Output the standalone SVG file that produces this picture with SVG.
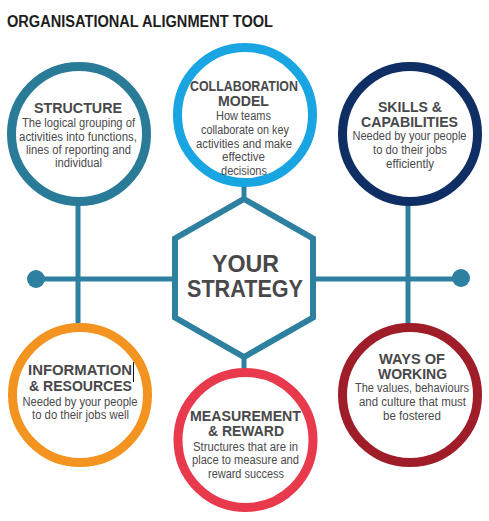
<svg xmlns="http://www.w3.org/2000/svg" width="489" height="521" viewBox="0 0 489 521">
<style>
.title{font-family:"Liberation Sans",Arial,sans-serif;font-weight:bold;font-size:16px;fill:#1e1e1e}
.h{font-family:"Liberation Sans",Arial,sans-serif;font-weight:bold;font-size:14.5px;fill:#48484a;text-anchor:middle}
.b{font-family:"Liberation Sans",Arial,sans-serif;font-size:12px;fill:#4a4a4c;text-anchor:middle}
.big{font-family:"Liberation Sans",Arial,sans-serif;font-weight:bold;font-size:24px;fill:#48484a;text-anchor:middle}
.ring{fill:#ffffff;stroke-width:9}
.conn{stroke:#2e80a0;stroke-width:5;fill:none}
</style>
<rect width="489" height="521" fill="#ffffff"/>
<text class="title" x="7" y="27" textLength="266" lengthAdjust="spacingAndGlyphs">ORGANISATIONAL ALIGNMENT TOOL</text>

<g id="connectors">
  <line class="conn" x1="78" y1="200" x2="78" y2="330"/>
  <line class="conn" x1="408" y1="200" x2="408" y2="330"/>
  <line class="conn" x1="36" y1="279" x2="176" y2="279"/>
  <line class="conn" x1="312" y1="279" x2="461" y2="279"/>
  <line class="conn" x1="244" y1="185" x2="244" y2="200"/>
  <line class="conn" x1="244" y1="352" x2="244" y2="370"/>
  <circle cx="36" cy="279" r="9" fill="#2e80a0"/>
  <circle cx="461" cy="278" r="9" fill="#2e80a0"/>
</g>

<g id="strategy">
  <polygon points="244,199 313,238.5 313,317.5 244,357 175,317.5 175,238.5" fill="#ffffff" stroke="#2e80a0" stroke-width="6"/>
  <text class="big" x="245.5" y="272" textLength="67" lengthAdjust="spacingAndGlyphs">YOUR</text>
  <text class="big" x="245" y="297" textLength="116" lengthAdjust="spacingAndGlyphs">STRATEGY</text>
</g>

<g id="structure">
  <circle class="ring" cx="79" cy="134" r="67.5" stroke="#2a7b98"/>
  <text class="h" x="78" y="113" textLength="88" lengthAdjust="spacingAndGlyphs">STRUCTURE</text>
  <text class="b" x="78.5" y="127" textLength="113" lengthAdjust="spacingAndGlyphs">The logical grouping of</text>
  <text class="b" x="78" y="141" textLength="118" lengthAdjust="spacingAndGlyphs">activities into functions,</text>
  <text class="b" x="78.5" y="154" textLength="105" lengthAdjust="spacingAndGlyphs">lines of reporting and</text>
  <text class="b" x="78.5" y="167" textLength="47" lengthAdjust="spacingAndGlyphs">individual</text>
</g>

<g id="collaboration">
  <circle class="ring" cx="245" cy="115" r="67.5" stroke="#19a4e2"/>
  <text class="h" x="244" y="91" font-size="14" textLength="108" lengthAdjust="spacingAndGlyphs">COLLABORATION</text>
  <text class="h" x="243.5" y="105.5" font-size="14" textLength="51" lengthAdjust="spacingAndGlyphs">MODEL</text>
  <text class="b" x="243.5" y="120" textLength="55" lengthAdjust="spacingAndGlyphs">How teams</text>
  <text class="b" x="245" y="134" textLength="88" lengthAdjust="spacingAndGlyphs">collaborate on key</text>
  <text class="b" x="244" y="148" textLength="96" lengthAdjust="spacingAndGlyphs">activities and make</text>
  <text class="b" x="243.5" y="161" textLength="43" lengthAdjust="spacingAndGlyphs">effective</text>
  <text class="b" x="244" y="175" textLength="46" lengthAdjust="spacingAndGlyphs">decisions</text>
</g>

<g id="skills">
  <circle class="ring" cx="410" cy="134" r="67.5" stroke="#0f2e63"/>
  <text class="h" x="410" y="112" textLength="64" lengthAdjust="spacingAndGlyphs">SKILLS &amp;</text>
  <text class="h" x="409.5" y="127" textLength="97" lengthAdjust="spacingAndGlyphs">CAPABILITIES</text>
  <text class="b" x="409.5" y="140" textLength="114" lengthAdjust="spacingAndGlyphs">Needed by your people</text>
  <text class="b" x="410" y="154" textLength="74" lengthAdjust="spacingAndGlyphs">to do their jobs</text>
  <text class="b" x="410" y="168" textLength="48" lengthAdjust="spacingAndGlyphs">efficiently</text>
</g>

<g id="information">
  <circle class="ring" cx="80" cy="395" r="67.5" stroke="#f39420"/>
  <text class="h" x="80" y="375" textLength="104" lengthAdjust="spacingAndGlyphs">INFORMATION</text>
  <text class="h" x="80.5" y="391" textLength="103" lengthAdjust="spacingAndGlyphs">&amp; RESOURCES</text>
  <text class="b" x="80" y="406" textLength="115" lengthAdjust="spacingAndGlyphs">Needed by your people</text>
  <text class="b" x="80.5" y="419" textLength="97" lengthAdjust="spacingAndGlyphs">to do their jobs well</text>
  <line x1="133.5" y1="362" x2="133.5" y2="382" stroke="#111111" stroke-width="1"/>
</g>

<g id="measurement">
  <circle class="ring" cx="245.5" cy="440" r="67.5" stroke="#e83a4c"/>
  <text class="h" x="245.5" y="421" textLength="111" lengthAdjust="spacingAndGlyphs">MEASUREMENT</text>
  <text class="h" x="246" y="436" textLength="76" lengthAdjust="spacingAndGlyphs">&amp; REWARD</text>
  <text class="b" x="245.5" y="451" textLength="105" lengthAdjust="spacingAndGlyphs">Structures that are in</text>
  <text class="b" x="245.5" y="464" textLength="107" lengthAdjust="spacingAndGlyphs">place to measure and</text>
  <text class="b" x="246" y="478" textLength="76" lengthAdjust="spacingAndGlyphs">reward success</text>
</g>

<g id="ways">
  <circle class="ring" cx="410" cy="395" r="67.5" stroke="#9e1d28"/>
  <text class="h" x="412" y="364" textLength="66" lengthAdjust="spacingAndGlyphs">WAYS OF</text>
  <text class="h" x="412.5" y="379" textLength="69" lengthAdjust="spacingAndGlyphs">WORKING</text>
  <text class="b" x="412" y="392" textLength="114" lengthAdjust="spacingAndGlyphs">The values, behaviours</text>
  <text class="b" x="412.5" y="406" textLength="107" lengthAdjust="spacingAndGlyphs">and culture that must</text>
  <text class="b" x="412" y="420" textLength="58" lengthAdjust="spacingAndGlyphs">be fostered</text>
</g>
</svg>
